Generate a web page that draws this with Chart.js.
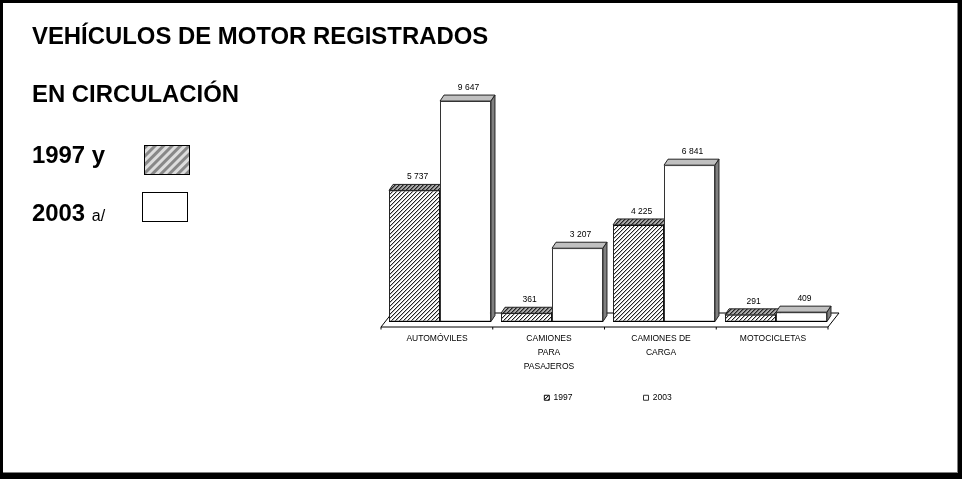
<!DOCTYPE html>
<html>
<head>
<meta charset="utf-8">
<script src="https://cdn.jsdelivr.net/npm/chart.js@4"></script>
<style>
  html, body { margin: 0; padding: 0; background: #000; }
  #page { position: relative; width: 962px; height: 479px; overflow: hidden; background: #000; font-family: "Liberation Sans", Arial, sans-serif; }
  #panel { position: absolute; left: 3px; top: 3px; width: 954px; height: 469px; background: #fff; border-right: 1px solid #808080; border-bottom: 1px solid #808080; }
  #chartBox { position: absolute; left: 0; top: 0; width: 962px; height: 479px; }
  .head { position: absolute; left: 32px; font-weight: bold; font-size: 23.9px; line-height: 24px; white-space: nowrap; color: #000; }
  .head small { font-weight: normal; font-size: 16px; }
  .swatch { position: absolute; width: 44px; height: 28px; border: 1.5px solid #000; }
  #swatch97 { left: 144px; top: 145px; background: repeating-linear-gradient(135deg, #888 0 2px, #ddd 3px 5px, #888 6px); }
  #swatch03 { left: 142px; top: 192px; background: #fff; }
</style>
</head>
<body>
<div id="page">
  <div id="panel"></div>
  <div id="chartBox"><canvas id="vehiculos" width="962" height="479"></canvas></div>
  <div class="head" style="top:24px">VEHÍCULOS DE MOTOR REGISTRADOS</div>
  <div class="head" style="top:82px">EN CIRCULACIÓN</div>
  <div class="head" style="top:143px">1997 y</div>
  <div class="head" style="top:201px">2003 <small>a/</small></div>
  <div class="swatch" id="swatch97"></div>
  <div class="swatch" id="swatch03"></div>
</div>
<script>
const categories = ["AUTOMÓVILES", ["CAMIONES", "PARA", "PASAJEROS"], ["CAMIONES DE", "CARGA"], "MOTOCICLETAS"];
const years = ["1997", "2003"];
const values1997 = [5737, 361, 4225, 291];
const values2003 = [9647, 3207, 6841, 409];

const smallFont = '"Liberation Sans", Arial, sans-serif';

// diagonal hatching used for the 1997 bars
function hatch(bg, line, soft) {
  const size = 4;
  const c = document.createElement("canvas");
  c.width = size;
  c.height = size;
  const g = c.getContext("2d");
  g.fillStyle = bg;
  g.fillRect(0, 0, size, size);
  for (let i = 0; i < size; i++) {
    g.fillStyle = line;
    g.fillRect(size - 1 - i, i, 1, 1);
    g.fillStyle = soft;
    g.fillRect((size * 2 - i) % size, i, 1, 1);
  }
  return g.createPattern(c, "repeat");
}

const canvasCtx = document.getElementById("vehiculos").getContext("2d");
const hatchFront = hatch("#fff", "#222", "#bbb");
const hatchTop = hatch("#aaa", "#222", "#666");

const depthX = 4;
const depthY = 6;

// fake 3D: floor, top and side faces, drawn behind the bars
const faces3d = {
  id: "faces3d",
  // the tick labels are clipped to the scale box, so stretch it once layout is done
  afterLayout(chart) {
    chart.scales.x.bottom = chart.scales.x.top + 60;
  },
  beforeDatasetsDraw(chart) {
    const c = chart.ctx;
    const a = chart.chartArea;
    const y = chart.scales.y.getPixelForValue(0);
    c.save();
    c.lineWidth = 1;
    c.strokeStyle = "#000";
    // floor
    c.beginPath();
    c.moveTo(a.left - 3, y + 5.5);
    c.lineTo(a.left + 8, y - 8.5);
    c.lineTo(a.right + 7, y - 8.5);
    c.lineTo(a.right - 4, y + 5.5);
    c.closePath();
    c.fillStyle = "#fff";
    c.fill();
    c.stroke();
    // ticks on the front edge
    c.beginPath();
    for (let i = 0; i <= categories.length; i++) {
      const tx = a.left - 3 + i * (a.width - 1) / categories.length;
      c.moveTo(tx, y + 5.5);
      c.lineTo(tx, y + 8);
    }
    c.stroke();
    chart.data.datasets.forEach((ds, d) => {
      chart.getDatasetMeta(d).data.forEach((bar) => {
        const l = bar.x - bar.width / 2;
        const r = bar.x + bar.width / 2;
        const t = bar.y;
        const b = bar.base;
        c.strokeStyle = "#222";
        // top face
        c.beginPath();
        c.moveTo(l, t);
        c.lineTo(l + depthX, t - depthY);
        c.lineTo(r + depthX, t - depthY);
        c.lineTo(r, t);
        c.closePath();
        c.fillStyle = d === 0 ? hatchTop : "#c0c0c0";
        c.fill();
        c.stroke();
        // side face
        c.beginPath();
        c.moveTo(r, t);
        c.lineTo(r + depthX, t - depthY);
        c.lineTo(r + depthX, b - depthY);
        c.lineTo(r, b);
        c.closePath();
        c.fillStyle = "#808080";
        c.fill();
        c.stroke();
      });
    });
    c.restore();
  },
  afterDatasetsDraw(chart) {
    const c = chart.ctx;
    c.save();
    c.font = "8.5px " + smallFont;
    c.fillStyle = "#000";
    c.textAlign = "center";
    c.textBaseline = "middle";
    c.strokeStyle = "#000";
    c.lineWidth = 1;
    chart.data.datasets.forEach((ds, d) => {
      chart.getDatasetMeta(d).data.forEach((bar, i) => {
        const txt = String(ds.data[i]).replace(/\B(?=(\d{3})+$)/, " ");
        c.fillText(txt, bar.x + 3, bar.y - depthY - 7.5);
        // black foot line of the bar
        const foot = Math.round(bar.base) - 0.5;
        c.beginPath();
        c.moveTo(bar.x - bar.width / 2, foot);
        c.lineTo(bar.x + bar.width / 2, foot);
        c.stroke();
      });
    });
    c.restore();
  },
};

new Chart(canvasCtx, {
  type: "bar",
  data: {
    labels: categories,
    datasets: [
      { label: years[0], data: values1997, backgroundColor: hatchFront, borderColor: "#111", borderWidth: 1, borderSkipped: false },
      { label: years[1], data: values2003, backgroundColor: "#fff", borderColor: "#333", borderWidth: 1, borderSkipped: false },
    ],
  },
  options: {
    responsive: false,
    animation: false,
    events: [],
    layout: { padding: { left: 384, right: 130, top: 93, bottom: 67 } },
    datasets: { bar: { categoryPercentage: 0.91, barPercentage: 1 } },
    scales: {
      x: {
        grid: { display: false },
        border: { display: false },
        ticks: {
          color: "#000",
          font: { family: smallFont, size: 8.5, lineHeight: 1.65 },
          maxRotation: 0,
          autoSkip: false,
          labelOffset: -3,
          padding: 2,
        },
        // labels hang below the plot, the legend keeps its own place
        afterFit(scale) {
          scale.height = 1;
        },
      },
      y: { display: false, min: 0, max: 10000 },
    },
    plugins: {
      title: { display: false },
      tooltip: { enabled: false },
      legend: {
        position: "bottom",
        labels: {
          color: "#000",
          boxWidth: 5,
          boxHeight: 5,
          padding: 71,
          font: { family: smallFont, size: 8.5 },
        },
      },
    },
  },
  plugins: [faces3d],
});
</script>
</body>
</html>
